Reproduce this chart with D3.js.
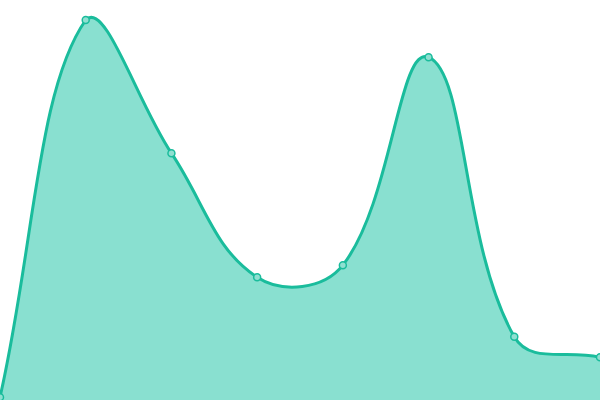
<!DOCTYPE html>
<html><head><meta charset="utf-8">
<script src="https://cdn.jsdelivr.net/npm/d3@7"></script>
<style>html,body{margin:0;padding:0;background:#fff;overflow:hidden}</style>
</head><body>
<svg id="chart" width="600" height="400"></svg>
<script>
const categories = ["A","B","C","D","E","F","G","H"];
const values = [0.7, 95, 61.7, 30.7, 33.7, 85.7, 15.8, 10.7];

const W = 600, H = 400, TENSION = 0.4;
const svg = d3.select("#chart");
const x = d3.scalePoint().domain(categories).range([0, W]);
const y = d3.scaleLinear().domain([0, 100]).range([H, 0]);
const pts = categories.map((c, i) => ({x: x(c), y: y(values[i])}));

// spline control points (distance-weighted, tension 0.4)
const clamp = (v, lo, hi) => Math.max(lo, Math.min(hi, v));
pts.forEach((p, i) => {
  const prev = pts[i - 1] || p, next = pts[i + 1] || p;
  const d01 = Math.hypot(p.x - prev.x, p.y - prev.y);
  const d12 = Math.hypot(next.x - p.x, next.y - p.y);
  let s01 = d01 / (d01 + d12), s12 = d12 / (d01 + d12);
  s01 = isNaN(s01) ? 0 : s01; s12 = isNaN(s12) ? 0 : s12;
  const fa = TENSION * s01, fb = TENSION * s12;
  p.cpx0 = clamp(p.x - fa * (next.x - prev.x), 0, W);
  p.cpy0 = clamp(p.y - fa * (next.y - prev.y), 0, H);
  p.cpx1 = clamp(p.x + fb * (next.x - prev.x), 0, W);
  p.cpy1 = clamp(p.y + fb * (next.y - prev.y), 0, H);
});

function linePath(ctx) {
  ctx.moveTo(pts[0].x, pts[0].y);
  for (let i = 1; i < pts.length; i++) {
    const a = pts[i - 1], b = pts[i];
    ctx.bezierCurveTo(a.cpx1, a.cpy1, b.cpx0, b.cpy0, b.x, b.y);
  }
  return ctx;
}
const lp = linePath(d3.path()).toString();
const ap = linePath(d3.path());
ap.lineTo(pts[pts.length - 1].x, y(0));
ap.lineTo(pts[0].x, y(0));
ap.closePath();

svg.append("path").attr("d", ap.toString()).attr("fill", "#89e0d0");
svg.append("path").attr("d", lp).attr("fill", "none").attr("stroke", "#1abc9c").attr("stroke-width", 3);
svg.selectAll("circle").data(pts).join("circle")
  .attr("cx", d => d.x).attr("cy", d => d.y).attr("r", 3.5)
  .attr("fill", "#8fe0d1").attr("stroke", "#1abc9c").attr("stroke-width", 1.5);
</script>
</body></html>
